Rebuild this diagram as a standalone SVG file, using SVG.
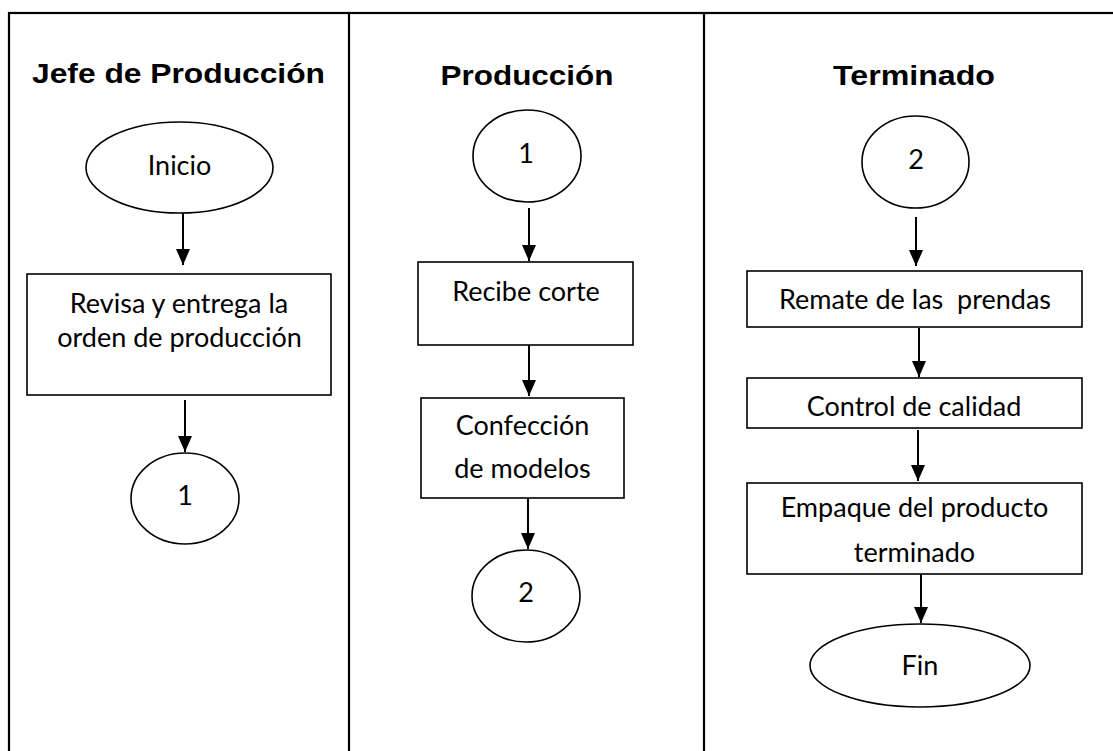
<svg xmlns="http://www.w3.org/2000/svg" width="1113" height="751" viewBox="0 0 1113 751">
<style>
.lane{fill:none;stroke:#000;stroke-width:2.2}
.shape{fill:#fff;stroke:#000;stroke-width:1.6}
.title{font-family:"Liberation Sans",Arial,sans-serif;font-weight:bold;font-size:28px;text-anchor:middle;fill:#000}
.t{font-family:Lato,"Open Sans",sans-serif;font-size:27px;text-anchor:middle;fill:#000;white-space:pre}
.conn{stroke:#000;stroke-width:2;fill:none}
</style>
<defs>
<marker id="ah" markerUnits="userSpaceOnUse" markerWidth="16" markerHeight="14" refX="16" refY="7" orient="auto" viewBox="0 0 16 14">
<path d="M0,0 L16,7 L0,14 Z" fill="#000"/>
</marker>
</defs>
<rect id="bg" x="0" y="0" width="1113" height="751" fill="#fff"/>
<g id="lanes">
<rect class="lane" x="9" y="13" width="1116" height="750"/>
<line class="lane" x1="349" y1="13" x2="349" y2="751"/>
<line class="lane" x1="704" y1="13" x2="704" y2="751"/>
<text class="title" x="178.5" y="83" textLength="293" lengthAdjust="spacingAndGlyphs">Jefe de Producción</text>
<text class="title" x="527" y="85" textLength="173" lengthAdjust="spacingAndGlyphs">Producción</text>
<text class="title" x="914" y="85" textLength="162" lengthAdjust="spacingAndGlyphs">Terminado</text>
</g>
<g id="connectors">
<line class="conn" x1="183" y1="213" x2="183" y2="265" marker-end="url(#ah)"/>
<line class="conn" x1="185" y1="400" x2="185" y2="452" marker-end="url(#ah)"/>
<line class="conn" x1="529" y1="208" x2="529" y2="261" marker-end="url(#ah)"/>
<line class="conn" x1="529" y1="345" x2="529" y2="396" marker-end="url(#ah)"/>
<line class="conn" x1="528" y1="499" x2="528" y2="549" marker-end="url(#ah)"/>
<line class="conn" x1="916" y1="217" x2="916" y2="266" marker-end="url(#ah)"/>
<line class="conn" x1="919" y1="328" x2="919" y2="377" marker-end="url(#ah)"/>
<line class="conn" x1="918" y1="430" x2="918" y2="481" marker-end="url(#ah)"/>
<line class="conn" x1="921" y1="574" x2="921" y2="623" marker-end="url(#ah)"/>
</g>
<g id="inicio"><ellipse class="shape" cx="179.5" cy="167.5" rx="93.5" ry="45.5"/><text class="t" x="179.5" y="175">Inicio</text></g>
<g id="revisa"><rect class="shape" x="27" y="274" width="304" height="121"/><text class="t" x="179" y="313">Revisa y entrega la</text><text class="t" x="179.5" y="347">orden de producción</text></g>
<g id="conector1a"><ellipse class="shape" cx="185" cy="498.5" rx="54" ry="45.5"/><text class="t" x="185" y="505">1</text></g>
<g id="conector1b"><ellipse class="shape" cx="527" cy="156" rx="54" ry="46"/><text class="t" x="526" y="163">1</text></g>
<g id="recibe"><rect class="shape" x="418" y="262" width="215" height="83"/><text class="t" x="526" y="301">Recibe corte</text></g>
<g id="confeccion"><rect class="shape" x="421" y="398" width="203" height="100"/><text class="t" x="522.5" y="435">Confección</text><text class="t" x="522.5" y="478">de modelos</text></g>
<g id="conector2a"><ellipse class="shape" cx="526" cy="596" rx="54" ry="46"/><text class="t" x="526" y="602">2</text></g>
<g id="conector2b"><ellipse class="shape" cx="915.5" cy="162" rx="53.5" ry="46"/><text class="t" x="916" y="169">2</text></g>
<g id="remate"><rect class="shape" x="747" y="271" width="335" height="56"/><text class="t" x="915" y="309">Remate de las  prendas</text></g>
<g id="control"><rect class="shape" x="747" y="378" width="335" height="50"/><text class="t" x="914" y="416">Control de calidad</text></g>
<g id="empaque"><rect class="shape" x="747" y="483" width="335" height="91"/><text class="t" x="914.5" y="517">Empaque del producto</text><text class="t" x="914.5" y="562">terminado</text></g>
<g id="fin"><ellipse class="shape" cx="920" cy="665.5" rx="110" ry="41.5"/><text class="t" x="920" y="675">Fin</text></g>
</svg>
